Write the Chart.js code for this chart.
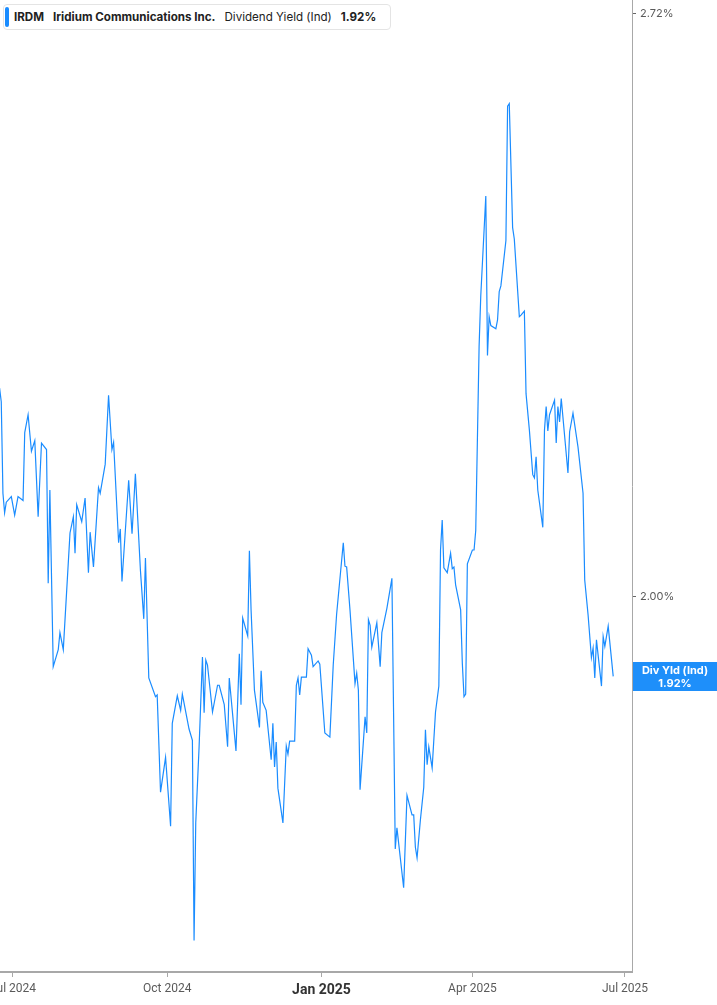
<!DOCTYPE html>
<html>
<head>
<meta charset="utf-8">
<title>IRDM Dividend Yield</title>
<script src="https://cdn.jsdelivr.net/npm/chart.js@4.4.0/dist/chart.umd.min.js"></script>
<style>
  html, body { margin: 0; padding: 0; background: #fff; }
  #wrap { position: relative; width: 717px; height: 1005px; }
  #legend {
    position: absolute; left: 3px; top: 4px; width: 388px; height: 26px;
    box-sizing: border-box; border: 1px solid #e4e4e4; border-radius: 4px; background: #fff;
    font: 11.6px Inter, "Noto Sans", sans-serif; color: #222;
    display: flex; align-items: center; white-space: nowrap;
  }
  #legend .bar { width: 4px; height: 20px; background: #1a8cff; border-radius: 2px; margin: 0 5px 0 1px; }
  #legend b { font-weight: 700; }
  #legend .gap { display: inline-block; width: 9px; }
</style>
</head>
<body>
<div id="wrap">
  <canvas id="c" width="717" height="1005"></canvas>
  <div id="legend">
    <span class="bar"></span>
    <b>IRDM</b><span class="gap"></span>
    <b>Iridium Communications Inc.</b><span class="gap"></span>
    <span>Dividend Yield (Ind)</span><span class="gap"></span>
    <b>1.92%</b>
  </div>
</div>
<script>
// days since 2024-07-01 (approx. trading days)
var dayOffsets = [
  -8, -7, -6, -5, -4, -1, 1, 3, 6, 7, 9, 11, 13, 15, 17, 20, 21, 22, 24, 27,
  28, 30, 34, 36, 37, 38, 41, 43, 45, 46, 48, 51, 52, 55, 57, 59, 60, 63, 64, 65,
  69, 71, 73, 76, 78, 79, 81, 85, 86, 88, 91, 94, 95, 98, 100, 101, 105, 107, 108, 109,
  111, 113, 114, 115, 116, 119, 122, 123, 126, 128, 129, 133, 135, 136, 137, 140, 141, 142, 144, 147,
  148, 149, 151, 154, 155, 156, 157, 158, 161, 163, 164, 165, 168, 169, 170, 171, 172, 175, 176, 178,
  179, 182, 183, 186, 189, 191, 193, 197, 198, 199, 201, 204, 205, 206, 207, 210, 211, 212, 213, 214,
  217, 219, 220, 223, 226, 228, 229, 233, 235, 238, 239, 240, 241, 243, 245, 246, 247, 248, 250, 252,
  254, 255, 256, 257, 259, 261, 262, 263, 264, 267, 268, 269, 270, 271, 274, 275, 276, 278, 279, 282,
  283, 284, 285, 288, 289, 290, 291, 294, 295, 296, 298, 299, 302, 303, 305, 306, 308, 310, 311, 312,
  313, 316, 317, 318, 319, 320, 323, 324, 325, 326, 327, 331, 332, 334, 337, 340, 341, 343, 345, 346,
  347, 348, 351, 352, 353, 355, 358
];
// dividend yield, %
var yieldPct = [
  2.258, 2.241, 2.128, 2.104, 2.117, 2.124, 2.101, 2.124, 2.119, 2.203, 2.225, 2.180, 2.193, 2.099, 2.190, 2.182, 2.017, 2.132, 1.914, 1.935,
  1.956, 1.935, 2.079, 2.099, 2.054, 2.114, 2.093, 2.122, 2.030, 2.080, 2.037, 2.135, 2.128, 2.164, 2.249, 2.182, 2.191, 2.067, 2.084, 2.019,
  2.144, 2.078, 2.152, 2.033, 1.973, 2.048, 1.900, 1.877, 1.879, 1.759, 1.802, 1.717, 1.844, 1.878, 1.860, 1.880, 1.837, 1.823, 1.576, 1.721,
  1.815, 1.926, 1.857, 1.922, 1.916, 1.858, 1.891, 1.891, 1.867, 1.815, 1.900, 1.810, 1.930, 1.867, 1.974, 1.952, 2.057, 1.984, 1.885, 1.839,
  1.909, 1.870, 1.860, 1.799, 1.844, 1.790, 1.821, 1.764, 1.721, 1.816, 1.806, 1.822, 1.822, 1.891, 1.900, 1.879, 1.901, 1.901, 1.936, 1.928,
  1.914, 1.921, 1.917, 1.832, 1.827, 1.916, 1.978, 2.067, 2.038, 2.037, 1.984, 1.893, 1.906, 1.885, 1.762, 1.852, 1.832, 1.972, 1.965, 1.938,
  1.968, 1.914, 1.956, 1.986, 2.023, 1.689, 1.715, 1.641, 1.755, 1.731, 1.731, 1.691, 1.678, 1.725, 1.765, 1.836, 1.793, 1.815, 1.789, 1.858,
  1.890, 2.058, 2.095, 2.036, 2.030, 2.054, 2.035, 2.037, 2.015, 1.984, 1.918, 1.877, 1.880, 2.041, 2.058, 2.058, 2.082, 2.309, 2.372, 2.495,
  2.298, 2.346, 2.335, 2.331, 2.342, 2.377, 2.384, 2.440, 2.606, 2.609, 2.456, 2.442, 2.346, 2.348, 2.353, 2.251, 2.206, 2.151, 2.147, 2.173,
  2.132, 2.086, 2.206, 2.235, 2.205, 2.225, 2.243, 2.190, 2.235, 2.216, 2.245, 2.153, 2.204, 2.227, 2.185, 2.128, 2.021, 1.978, 1.925, 1.937,
  1.900, 1.947, 1.890, 1.951, 1.939, 1.964, 1.902
];
var tickDays = [0, 92, 184, 274, 365];
var tickLabels = ["Jul 2024", "Oct 2024", "Jan 2025", "Apr 2025", "Jul 2025"];
var boldTickLabel = "Jan 2025";
var yTickValues = [2.00, 2.72];
var badgeLines = ["Div Yld (Ind)", "1.92%"];

var LINE_COLOR = "#1a8cff";
var AXIS_COLOR = "#a8a8a8";
var TEXT_COLOR = "#5a5a5a";

var points = dayOffsets.map(function (d, i) {
  return { x: d, y: yieldPct[i] };
});

function isBoldTick(c) {
  if (!c || !c.tick) return false;
  return tickLabels[tickDays.indexOf(c.tick.value)] === boldTickLabel;
}

var badgePlugin = {
  id: "lastValueBadge",
  afterDraw: function (chart) {
    var ctx = chart.ctx;
    var area = chart.chartArea;
    var yScale = chart.scales.y;
    var last = yieldPct[yieldPct.length - 1];
    var cy = yScale.getPixelForValue(last);
    var h = 29;
    var left = area.right + 1;
    ctx.save();
    ctx.fillStyle = "#1e8ffa";
    ctx.fillRect(left, Math.round(cy - h / 2), chart.width - left, h);
    ctx.fillStyle = "#fff";
    ctx.textAlign = "center";
    ctx.textBaseline = "middle";
    ctx.font = "bold 11px Inter, 'Noto Sans', sans-serif";
    var cx = (left + chart.width) / 2;
    ctx.fillText(badgeLines[0], cx, cy - 6);
    ctx.fillText(badgeLines[1], cx, cy + 7);
    ctx.restore();
  }
};

new Chart(document.getElementById("c").getContext("2d"), {
  type: "line",
  data: {
    datasets: [
      {
        label: "Dividend Yield (Ind)",
        data: points,
        borderColor: LINE_COLOR,
        borderWidth: 1.2,
        pointRadius: 0,
        tension: 0,
        fill: false
      }
    ]
  },
  options: {
    responsive: false,
    animation: false,
    events: [],
    layout: { padding: 0 },
    plugins: { legend: { display: false }, tooltip: { enabled: false } },
    scales: {
      x: {
        type: "linear",
        min: -7.75,
        max: 369.2,
        border: { display: true, color: AXIS_COLOR, width: 2 },
        grid: { drawOnChartArea: false, drawTicks: true, tickLength: 5, color: AXIS_COLOR },
        afterBuildTicks: function (scale) {
          scale.ticks = tickDays.map(function (v) { return { value: v }; });
        },
        afterFit: function (scale) {
          scale.height = 33;
          scale.paddingLeft = 0;
          scale.paddingRight = 0;
        },
        ticks: {
          autoSkip: false,
          maxRotation: 0,
          padding: 5,
          callback: function (v) {
            var i = tickDays.indexOf(v);
            return i >= 0 ? tickLabels[i] : "";
          },
          color: function (c) {
            return isBoldTick(c) ? "#333" : TEXT_COLOR;
          },
          font: function (c) {
            var bold = isBoldTick(c);
            return { family: "Roboto, sans-serif", size: bold ? 14 : 12, weight: bold ? "bold" : "normal" };
          }
        }
      },
      y: {
        type: "linear",
        position: "right",
        min: 1.537,
        max: 2.737,
        border: { display: true, color: AXIS_COLOR, width: 1 },
        grid: { drawOnChartArea: false, drawTicks: true, tickLength: 4, color: "#666" },
        afterBuildTicks: function (scale) {
          scale.ticks = yTickValues.map(function (v) { return { value: v }; });
        },
        afterFit: function (scale) {
          scale.width = 85;
          scale.paddingTop = 0;
          scale.paddingBottom = 0;
        },
        ticks: {
          padding: 4,
          color: TEXT_COLOR,
          font: { family: "Inter, sans-serif", size: 11 },
          callback: function (v) { return Number(v).toFixed(2) + "%"; }
        }
      }
    }
  },
  plugins: [badgePlugin]
});
</script>
</body>
</html>
